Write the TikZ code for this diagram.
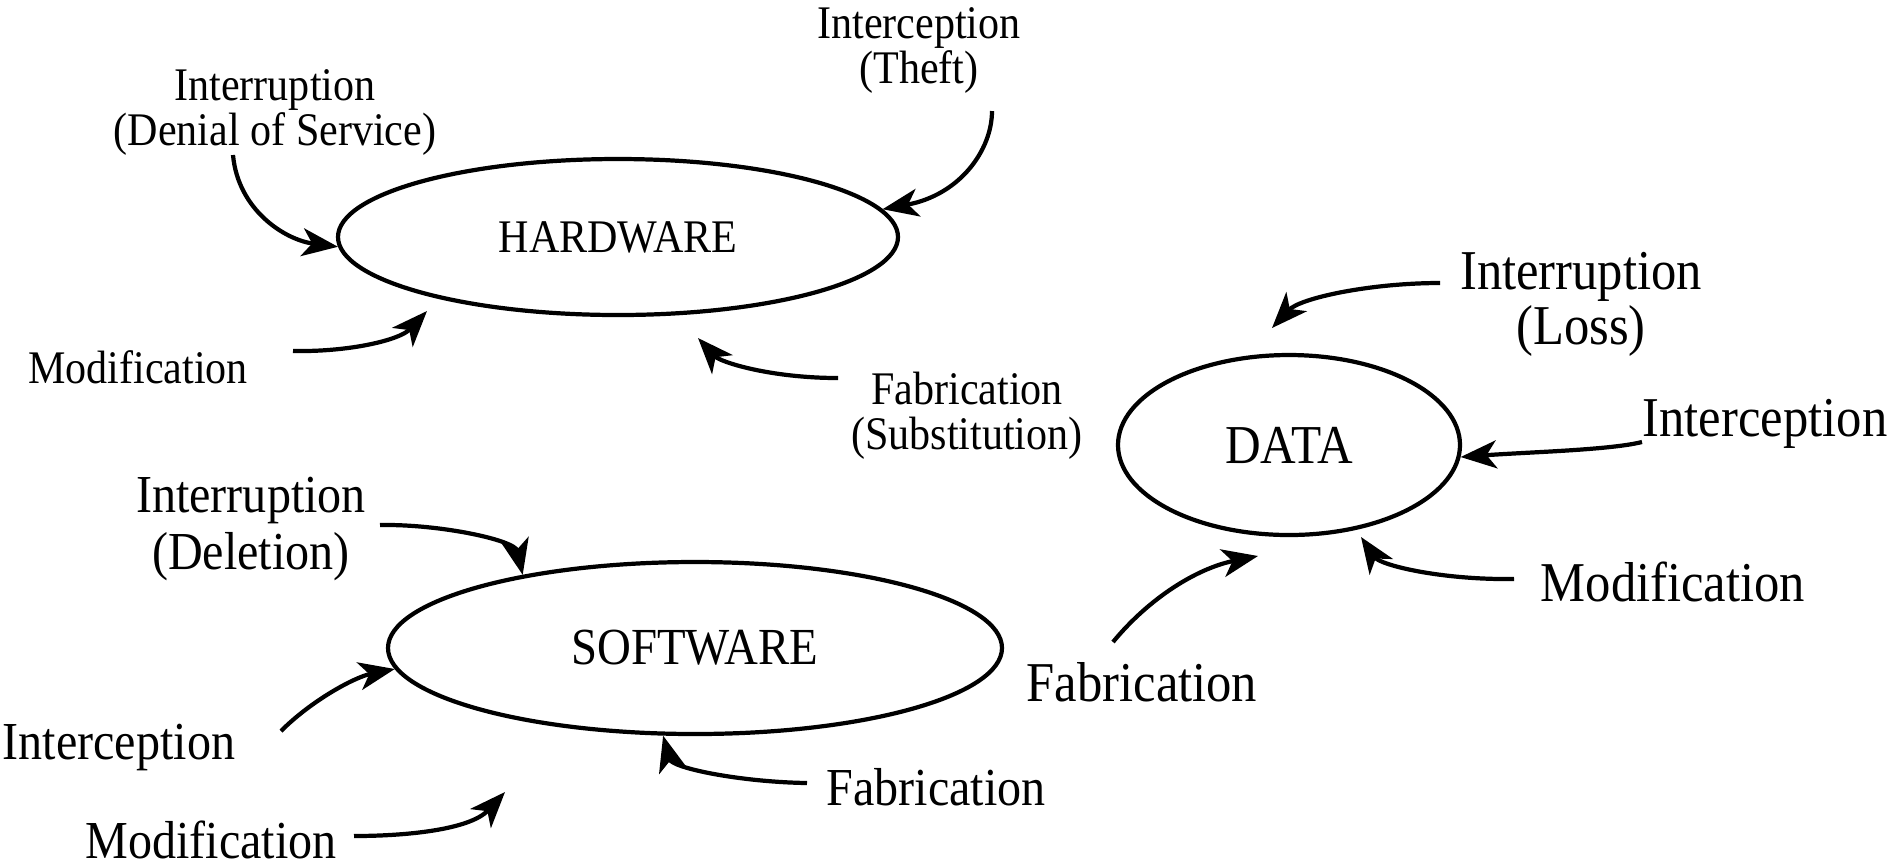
\documentclass[tikz,border=0pt]{standalone}
\usepackage{fontspec}
\setmainfont{Liberation Serif}[FakeStretch=0.9]
\usetikzlibrary{arrows.meta,shapes.geometric}
\begin{document}
\begin{tikzpicture}[x=0.1mm,y=-0.1mm,
  asset/.style={draw, ellipse, line width=1.2pt, inner sep=0pt},
  lab/.style={inner sep=0pt, align=center},
  small/.style={lab, font=\fontsize{13.3}{12.8}\selectfont},
  mid/.style={lab, font=\fontsize{15.2}{16}\selectfont},
  big/.style={lab, font=\fontsize{16}{15.6}\selectfont},
  threat/.style={-{Stealth[length=3.6mm,width=2.8mm,inset=1mm]}, line width=1.2pt}]

\fill[white] (0,0) rectangle (1897,867);
\useasboundingbox (0,0) rectangle (1897,867);

% the three assets
\node[asset, minimum width=56mm, minimum height=15.6mm, font=\fontsize{13.3}{14}\selectfont] (hw) at (618,237) {HARDWARE};
\node[asset, minimum width=61.4mm, minimum height=17.2mm, font=\fontsize{14.8}{15}\selectfont] (sw) at (695,648) {SOFTWARE};
\node[asset, minimum width=34.2mm, minimum height=18mm, font=\fontsize{15.6}{16}\selectfont] (data) at (1289,445) {DATA};

% threats to hardware
\node[small] (hwint) at (275,112) {Interruption\\(Denial of Service)};
\node[small] (hwcep) at (919,50) {Interception\\(Theft)};
\node[small] (hwmod) at (138,367) {Modification};
\node[small] (hwfab) at (967,416) {Fabrication\\(Substitution)};

% threats to data
\node[big] (dint) at (1581,304) {Interruption\\(Loss)};
\node[big] (dcep) at (1765,424) {Interception};
\node[big] (dmod) at (1673,582) {Modification};
\node[big] (dfab) at (1142,682) {Fabrication};

% threats to software
\node[mid] (sint) at (251,529) {Interruption\\(Deletion)};
\node[mid] (scep) at (119,747) {Interception};
\node[mid] (sfab) at (936,787) {Fabrication};
\node[mid] (smod) at (211,840) {Modification};

% arrow tails next to the labels, and tips that stop short of an ellipse
\coordinate (s1) at (233,155);
\coordinate (s2) at (992,111);
\coordinate (s3) at (293,351);  \coordinate (t3) at (427,311);
\coordinate (s4) at (838,378);  \coordinate (t4) at (698,338);
\coordinate (s5) at (1440,283); \coordinate (t5) at (1272,328);
\coordinate (s6) at (1642,442);
\coordinate (s7) at (1514,579); \coordinate (t7) at (1361,537);
\coordinate (s8) at (1113,642); \coordinate (t8) at (1258,556);
\coordinate (s9) at (380,525);
\coordinate (s10) at (281,731);
\coordinate (s11) at (807,783);
\coordinate (s12) at (354,836); \coordinate (t12) at (505,792);

\draw[threat] (s1) .. controls (238,210) and (285,240) .. (hw.182);
\draw[threat] (s2) .. controls (992,150) and (960,195) .. (hw.6);
\draw[threat] (s3) .. controls (350,352) and (400,340) .. (t3);
\draw[threat] (s4) .. controls (770,378) and (720,362) .. (t4);

\draw[threat] (s5) .. controls (1370,283) and (1300,298) .. (t5);
\draw[threat] (s6) .. controls (1610,450) and (1530,452) .. (data.-4);
\draw[threat] (s7) .. controls (1440,580) and (1380,565) .. (t7);
\draw[threat] (s8) .. controls (1150,597) and (1198,568) .. (t8);

\draw[threat] (s9) .. controls (440,524) and (515,540) .. (sw.157);
\draw[threat] (s10) .. controls (312,700) and (355,677) .. (sw.184);
\draw[threat] (s11) .. controls (740,782) and (672,768) .. (sw.250);
\draw[threat] (s12) .. controls (405,836) and (470,830) .. (t12);
\end{tikzpicture}
\end{document}
